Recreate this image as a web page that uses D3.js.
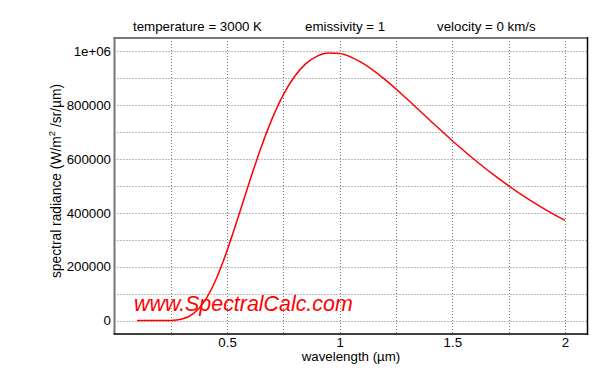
<!DOCTYPE html>
<html>
<head>
<meta charset="utf-8">
<script src="https://cdn.jsdelivr.net/npm/d3@7"></script>
<style>
  html, body { margin: 0; padding: 0; background: #fff; }
  svg { display: block; }
  text { font-family: "Liberation Sans", Arial, Helvetica, sans-serif; }
</style>
</head>
<body>
<svg id="chart" width="600" height="380"></svg>
<script>
// ---- data ----
const wavelengths = [0.10, 0.15, 0.20, 0.25, 0.30, 0.35, 0.40, 0.45, 0.50, 0.55, 0.60, 0.65, 0.70, 0.75, 0.80, 0.85, 0.90, 0.95, 1.00, 1.05, 1.10, 1.20, 1.30, 1.40, 1.50, 1.60, 1.70, 1.80, 1.90, 2.00];
const radiance    = [0, 0, 14, 570, 5590, 25400, 72200, 151700, 260200, 386500, 517400, 641500, 750500, 839800, 907700, 954800, 982900, 994500, 992300, 979100, 957200, 896000, 822200, 744500, 668300, 596700, 531000, 471800, 419000, 372200];
const xTickValues = [0.5, 1, 1.5, 2];
const xTickLabels = ["0.5", "1", "1.5", "2"];
const yTickValues = [0, 200000, 400000, 600000, 800000, 1000000];
const yTickLabels = ["0", "200000", "400000", "600000", "800000", "1e+06"];
const xGridValues = [0.25, 0.5, 0.75, 1, 1.25, 1.5, 1.75, 2];
const yGridValues = [0, 100000, 200000, 300000, 400000, 500000, 600000, 700000, 800000, 900000, 1000000];
const headerTexts = ["temperature = 3000 K", "emissivity = 1", "velocity = 0 km/s"];
const watermark = "www.SpectralCalc.com";

// ---- layout ----
const L = 114.5, R = 587.5, T = 38, B = 334;
const svg = d3.select("#chart");

const x = d3.scaleLinear().domain([0, 2.1]).range([L, R]);
const y = d3.scaleLinear().domain([-50000, 1050000]).range([B, T]);

// grid
const grid = svg.append("g");
grid.selectAll("line.v").data(xGridValues).join("line")
  .attr("x1", d => Math.round(x(d)) + 0.5).attr("x2", d => Math.round(x(d)) + 0.5)
  .attr("y1", T).attr("y2", B)
  .attr("stroke", "#777").attr("stroke-width", 1).attr("stroke-dasharray", "1,2");
grid.selectAll("line.h").data(yGridValues).join("line")
  .attr("y1", d => Math.round(y(d)) + 0.5).attr("y2", d => Math.round(y(d)) + 0.5)
  .attr("x1", L).attr("x2", R)
  .attr("stroke", "#777").attr("stroke-width", 1).attr("stroke-dasharray", "1,2");

// axes (labels only, via d3 axes)
const xAxis = d3.axisBottom(x).tickValues(xTickValues)
  .tickFormat((d, i) => xTickLabels[i]).tickSize(0).tickPadding(0);
const gx = svg.append("g").attr("transform", `translate(0,${B})`).call(xAxis);
gx.select(".domain").remove();
gx.selectAll("text").attr("font-size", 13.3).attr("fill", "#000")
  .attr("dy", null).attr("y", 12.5).attr("font-family", "Liberation Sans, Arial, sans-serif");

const yAxis = d3.axisLeft(y).tickValues(yTickValues)
  .tickFormat((d, i) => yTickLabels[i]).tickSize(0).tickPadding(0);
const gy = svg.append("g").attr("transform", `translate(${L - 3.5},0)`).call(yAxis);
gy.select(".domain").remove();
gy.selectAll("text").attr("font-size", 13.3).attr("fill", "#000")
  .attr("font-family", "Liberation Sans, Arial, sans-serif");

// borders
svg.append("line").attr("x1", L).attr("x2", L).attr("y1", T - 1).attr("y2", B)
  .attr("stroke", "#777").attr("stroke-width", 2);
svg.append("line").attr("x1", L - 1).attr("x2", R).attr("y1", T).attr("y2", T)
  .attr("stroke", "#777").attr("stroke-width", 2);
svg.append("line").attr("x1", R).attr("x2", R).attr("y1", T - 1).attr("y2", B + 1)
  .attr("stroke", "#000").attr("stroke-width", 1.5);
svg.append("line").attr("x1", L - 1).attr("x2", R + 0.75).attr("y1", B).attr("y2", B)
  .attr("stroke", "#000").attr("stroke-width", 1.5);

// watermark
svg.append("text").attr("x", 134).attr("y", 311)
  .attr("font-size", 21.4).attr("font-style", "italic").attr("fill", "#ff0000")
  .text(watermark);

// curve
const pts = wavelengths.map((w, i) => [w, radiance[i]]);
const line = d3.line().x(d => x(d[0])).y(d => y(d[1])).curve(d3.curveMonotoneX);
svg.append("path").datum(pts).attr("d", line)
  .attr("fill", "none").attr("stroke", "#ff0000").attr("stroke-width", 1.5);

// header
const headerX = [133, 305, 437];
svg.selectAll("text.hdr").data(headerTexts).join("text")
  .attr("class", "hdr").attr("x", (d, i) => headerX[i]).attr("y", 30.5)
  .attr("font-size", 13.3).attr("fill", "#000").text(d => d);

// axis titles
svg.append("text").attr("x", (L + R) / 2).attr("y", 361)
  .attr("text-anchor", "middle").attr("font-size", 13.3).attr("fill", "#000")
  .text("wavelength (µm)");

const yl = svg.append("text")
  .attr("transform", `translate(61,181) rotate(-90)`)
  .attr("text-anchor", "middle").attr("font-size", 13.8).attr("fill", "#000");
yl.append("tspan").text("spectral radiance (W/m");
yl.append("tspan").attr("font-size", 9.5).attr("dy", -6).text("2");
yl.append("tspan").attr("dy", 6).text(" /sr/µm)");
</script>
</body>
</html>
